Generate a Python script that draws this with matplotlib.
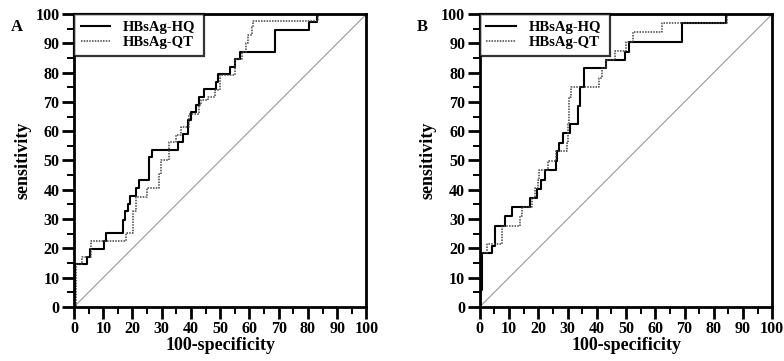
import matplotlib.pyplot as plt
from matplotlib.ticker import MultipleLocator

plt.rcParams['font.family'] = ['Liberation Serif', 'DejaVu Serif']
plt.rcParams['font.weight'] = 'bold'

# panel A: step ROC curves (100-specificity, sensitivity)
a_hq_x = [0, 0, 0.5, 0.5, 4.6, 4.6, 5.5, 5.5, 10.1, 10.1, 10.9, 10.9, 16.6, 16.6, 17.5, 17.5,
          18.3, 18.3, 19.2, 19.2, 21.2, 21.2, 22.1, 22.1, 25.8, 25.8, 26.7, 26.7, 35.5, 35.5,
          37.2, 37.2, 38.9, 38.9, 40.1, 40.1, 41.8, 41.8, 42.7, 42.7, 44.4, 44.4, 48.7, 48.7,
          49.3, 49.3, 53.3, 53.3, 55.0, 55.0, 56.7, 56.7, 68.7, 68.7, 80.2, 80.2, 83.0, 83.0, 100]
a_hq_y = [0, 4, 4, 14.6, 14.6, 16.9, 16.9, 19.7, 19.7, 22.6, 22.6, 25.1, 25.1, 29.5, 29.5, 32.6,
          32.6, 35.2, 35.2, 38.0, 38.0, 40.6, 40.6, 43.2, 43.2, 51.1, 51.1, 53.7, 53.7, 56.3,
          56.3, 59.1, 59.1, 63.7, 63.7, 66.6, 66.6, 69.1, 69.1, 71.7, 71.7, 74.3, 74.3, 76.8,
          76.8, 79.7, 79.7, 82.0, 82.0, 84.5, 84.5, 87.1, 87.1, 94.7, 94.7, 97.4, 97.4, 100, 100]
a_qt_x = [0, 0.6, 0.6, 2.6, 2.6, 5.7, 5.7, 17.8, 17.8, 20.3, 20.3, 21.2, 21.2, 24.9, 24.9,
          29.0, 29.0, 29.8, 29.8, 32.6, 32.6, 34.9, 34.9, 36.6, 36.6, 39.3, 39.3, 42.7, 42.7,
          43.5, 43.5, 45.8, 45.8, 48.1, 48.1, 49.8, 49.8, 55.0, 55.0, 57.3, 57.3, 58.8, 58.8,
          59.6, 59.6, 60.7, 60.7, 61.3, 61.3, 83.6, 83.6, 100]
a_qt_y = [0, 0, 14.6, 14.6, 17.1, 17.1, 22.6, 22.6, 25.1, 25.1, 32.6, 32.6, 37.4, 37.4, 40.6,
          40.6, 45.5, 45.5, 50.0, 50.0, 56.3, 56.3, 58.6, 58.6, 61.4, 61.4, 66.0, 66.0, 68.8,
          68.8, 70.5, 70.5, 71.7, 71.7, 74.2, 74.2, 79.1, 79.1, 84.5, 84.5, 87.1, 87.1, 90.0,
          90.0, 92.8, 92.8, 95.7, 95.7, 97.7, 97.7, 100, 100]

# panel B
b_hq_x = [0, 0, 0.6, 0.6, 4.3, 4.3, 5.1, 5.1, 8.5, 8.5, 11.1, 11.1, 17.0, 17.0, 19.5, 19.5,
          21.0, 21.0, 22.2, 22.2, 25.9, 25.9, 26.4, 26.4, 27.0, 27.0, 28.6, 28.6, 30.9, 30.9,
          33.5, 33.5, 34.3, 34.3, 35.5, 35.5, 43.2, 43.2, 49.8, 49.8, 51.1, 51.1, 69.1, 69.1,
          84.1, 84.1, 100]
b_hq_y = [0, 5.9, 5.9, 18.4, 18.4, 20.7, 20.7, 27.7, 27.7, 30.9, 30.9, 34.1, 34.1, 37.2, 37.2,
          40.2, 40.2, 43.4, 43.4, 46.8, 46.8, 49.7, 49.7, 53.1, 53.1, 56.1, 56.1, 59.5, 59.5,
          62.5, 62.5, 68.6, 68.6, 75.0, 75.0, 81.5, 81.5, 84.3, 84.3, 87.2, 87.2, 90.6, 90.6,
          97.0, 97.0, 100, 100]
b_qt_x = [0, 0.3, 0.3, 2.3, 2.3, 7.7, 7.7, 13.6, 13.6, 14.5, 14.5, 17.7, 17.7, 18.8, 18.8,
          19.8, 19.8, 20.2, 20.2, 23.3, 23.3, 25.9, 25.9, 29.8, 29.8, 30.2, 30.2, 30.5, 30.5,
          31.3, 31.3, 40.9, 40.9, 41.8, 41.8, 43.2, 43.2, 46.4, 46.4, 50.0, 50.0, 52.5, 52.5,
          62.3, 62.3, 84.7, 84.7, 100]
b_qt_y = [0, 0, 18.4, 18.4, 21.3, 21.3, 27.7, 27.7, 30.9, 30.9, 34.1, 34.1, 37.2, 37.2, 40.6,
          40.6, 43.4, 43.4, 46.8, 46.8, 49.7, 49.7, 53.1, 53.1, 56.1, 56.1, 62.5, 62.5, 71.6,
          71.6, 75.0, 75.0, 78.1, 78.1, 81.5, 81.5, 84.3, 84.3, 87.5, 87.5, 90.6, 90.6, 94.0,
          94.0, 97.0, 97.0, 100, 100]

panels = [('A', a_hq_x, a_hq_y, a_qt_x, a_qt_y, 0.0944),
          ('B', b_hq_x, b_hq_y, b_qt_x, b_qt_y, 0.612)]

fig = plt.figure(figsize=(7.84, 3.61), dpi=100)

for name, hx, hy, qx, qy, left in panels:
    ax = fig.add_axes([left, 0.150, 0.373, 0.811])
    ax.plot([0, 100], [0, 100], color='#999999', lw=0.8)
    ax.plot(hx, hy, color='black', lw=1.5, label='HBsAg-HQ')
    ax.plot(qx, qy, color='#444444', lw=1.1, ls=(0, (1, 0.8)), label='HBsAg-QT')
    ax.set_xlim(0, 100)
    ax.set_ylim(0, 100)
    ax.xaxis.set_major_locator(MultipleLocator(10))
    ax.yaxis.set_major_locator(MultipleLocator(10))
    ax.xaxis.set_minor_locator(MultipleLocator(5))
    ax.yaxis.set_minor_locator(MultipleLocator(5))
    ax.tick_params(which='major', length=8.5, width=2.0, labelsize=11.5, pad=2)
    ax.tick_params(which='minor', length=5, width=1.4)
    for s in ax.spines.values():
        s.set_linewidth(2.0)
    ax.set_xlabel('100-specificity', fontsize=13, fontweight='bold', labelpad=0)
    ax.set_ylabel('sensitivity', fontsize=13, fontweight='bold', labelpad=3)
    leg = ax.legend(loc='upper left', bbox_to_anchor=(0, 0, 0.445, 1), mode='expand',
                    fontsize=10.5, frameon=True, fancybox=False, borderaxespad=0,
                    handlelength=2.0, handletextpad=0.9, borderpad=0.45, labelspacing=0.15)
    leg.get_frame().set_edgecolor('black')
    leg.get_frame().set_linewidth(1.6)
    for t in leg.get_texts():
        t.set_fontweight('bold')
    fig.text(left - 0.081, 0.915, name, fontsize=12, fontweight='bold')

fig.savefig('out.png', dpi=100)
